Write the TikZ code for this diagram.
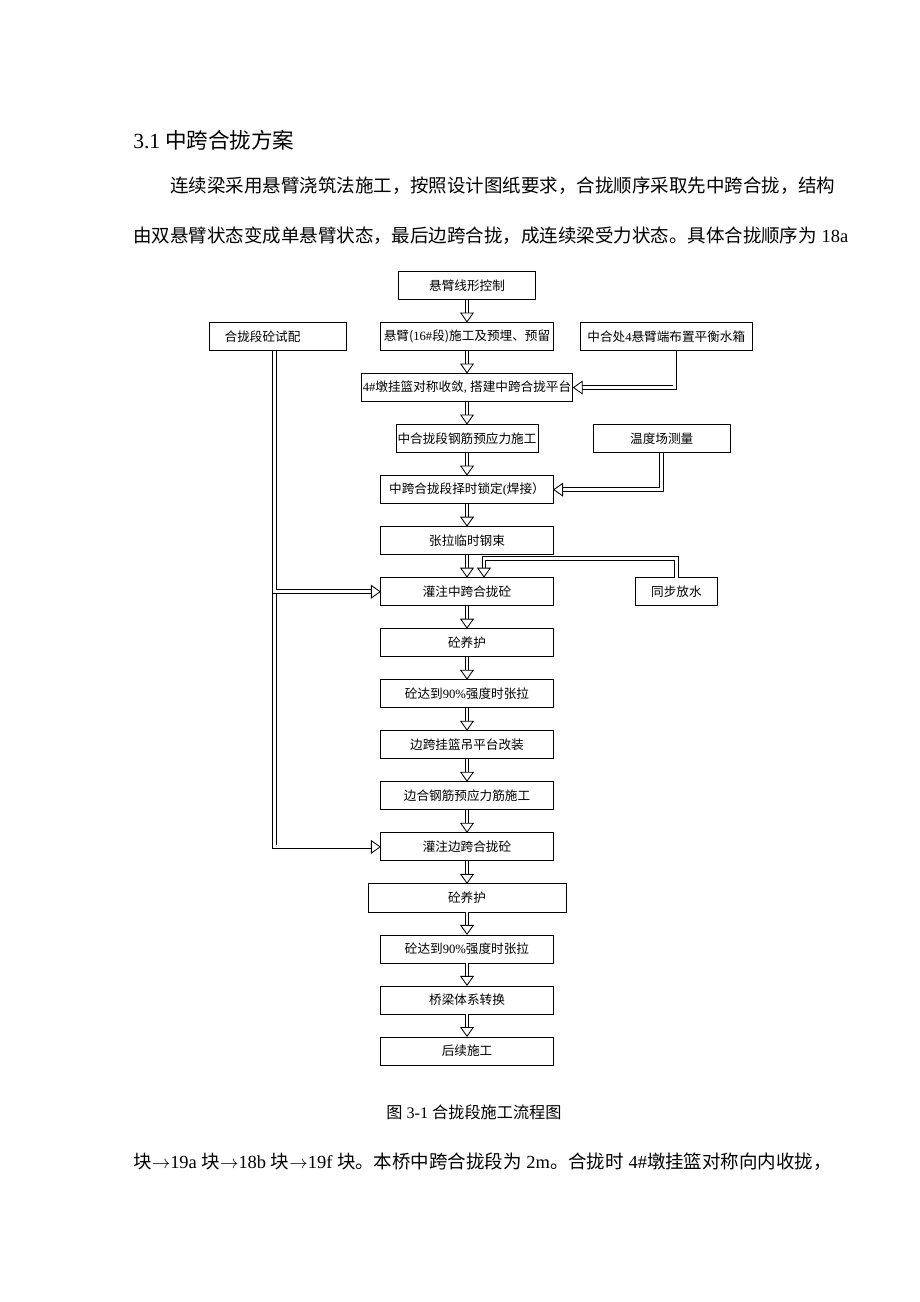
\documentclass[tikz,border=0pt]{standalone}
\usepackage{fontspec}
\setmainfont{Noto Sans CJK SC}
\newfontfamily\latfont{Liberation Serif}
\usepackage{tikz}
\usetikzlibrary{arrows.meta,positioning,calc}
\tikzset{
  stepbox/.style={draw, line width=0.6pt, minimum height=6.4mm, minimum width=39.3mm, inner sep=1pt, outer sep=0pt, font=\fontsize{8.2pt}{10pt}\selectfont},
  narrow/.style={stepbox, minimum width=31.3mm},
  flow/.style={double, double distance=1.9pt, line width=0.55pt, -{Triangle[open, width=9pt, length=6.5pt, line width=0.55pt]}},
  textline/.style={anchor=west, inner sep=0pt, font=\fontsize{12pt}{14pt}\selectfont}
}
\begin{document}
\begin{tikzpicture}[x=0.022826cm, y=-0.022826cm, node distance=5.25mm]
  \useasboundingbox (0,0) rectangle (920,1302);

  % page text
  \node[textline, font=\fontsize{14pt}{16pt}\selectfont] (head) at (133,140) {{\latfont 3.1} 中跨合拢方案};
  \node[textline] (para1) at (170,186) {连续梁采用悬臂浇筑法施工，按照设计图纸要求，合拢顺序采取先中跨合拢，结构};
  \node[textline] (para2) at (133,236) {由双悬臂状态变成单悬臂状态，最后边跨合拢，成连续梁受力状态。具体合拢顺序为{\latfont\ 18a}};

  % main chain
  \node[narrow] (ctrl) at (467,285.5) {悬臂线形控制};
  \node[stepbox, below=of ctrl] (cant) {悬臂({\latfont 16\#}段)施工及预埋、预留};
  \node[stepbox, below=of cant, minimum width=47.5mm] (close) {{\latfont 4\#}墩挂篮对称收敛{\latfont, }搭建中跨合拢平台};
  \node[narrow, below=of close] (rebar) {中合拢段钢筋预应力施工};
  \node[stepbox, below=of rebar] (lock) {中跨合拢段择时锁定{\latfont(}焊接）};
  \node[stepbox, below=of lock] (tension) {张拉临时钢束};
  \node[stepbox, below=of tension] (pourmid) {灌注中跨合拢砼};
  \node[stepbox, below=of pourmid] (curemid) {砼养护};
  \node[stepbox, below=of curemid] (stressmid) {砼达到{\latfont 90\%}强度时张拉};
  \node[stepbox, below=of stressmid] (refit) {边跨挂篮吊平台改装};
  \node[stepbox, below=of refit] (rebarside) {边合钢筋预应力筋施工};
  \node[stepbox, below=of rebarside] (pourside) {灌注边跨合拢砼};
  \node[stepbox, below=of pourside, minimum width=45.2mm] (cureside) {砼养护};
  \node[stepbox, below=of cureside] (stressside) {砼达到{\latfont 90\%}强度时张拉};
  \node[stepbox, below=of stressside] (convert) {桥梁体系转换};
  \node[stepbox, below=of convert] (later) {后续施工};

  % side inputs
  \node[narrow, left=7.8mm of cant, text width=24.4mm, inner xsep=3.4mm, align=left] (trial) {合拢段砼试配};
  \node[stepbox, right=6.2mm of cant] (water) {中合处{\latfont 4}悬臂端布置平衡水箱};
  \node[narrow, right=12.6mm of rebar] (temp) {温度场测量};
  \node[stepbox, right=18.7mm of pourmid, minimum width=18.9mm] (drain) {同步放水};

  \draw[flow] (ctrl) -- (cant);
  \draw[flow] (cant) -- (close);
  \draw[flow] (close) -- (rebar);
  \draw[flow] (rebar) -- (lock);
  \draw[flow] (lock) -- (tension);
  \draw[flow] (tension) -- (pourmid);
  \draw[flow] (pourmid) -- (curemid);
  \draw[flow] (curemid) -- (stressmid);
  \draw[flow] (stressmid) -- (refit);
  \draw[flow] (refit) -- (rebarside);
  \draw[flow] (rebarside) -- (pourside);
  \draw[flow] (pourside) -- (cureside);
  \draw[flow] (cureside) -- (stressside);
  \draw[flow] (stressside) -- (convert);
  \draw[flow] (convert) -- (later);

  % feedback from the side boxes
  \draw[flow] ($(water.south)+(8.5,0)$) |- (close.east);
  \draw[flow] (temp.south) |- (lock.east);
  \draw[flow] (drain.north) -- ++(0,-19) -| ($(pourmid.north)+(17,0)$);

  % trial mix feeds both pours
  \draw[flow] ($(trial.south)+(-3.5,0)$) |- (pourside.west);
  \draw[flow] ($(trial.south)+(-3.5,0)$) |- (pourmid.west);

  \node[font=\fontsize{10.5pt}{12pt}\selectfont, inner sep=0pt] (caption) at (474,1112) {图{\latfont\ 3-1 }合拢段施工流程图};
  \node[textline] (para3) at (133,1162) {块$\rightarrow${\latfont 19a }块$\rightarrow${\latfont 18b }块$\rightarrow${\latfont 19f }块。本桥中跨合拢段为{\latfont\ 2m}。合拢时{\latfont\ 4\#}墩挂篮对称向内收拢，};
\end{tikzpicture}
\end{document}
